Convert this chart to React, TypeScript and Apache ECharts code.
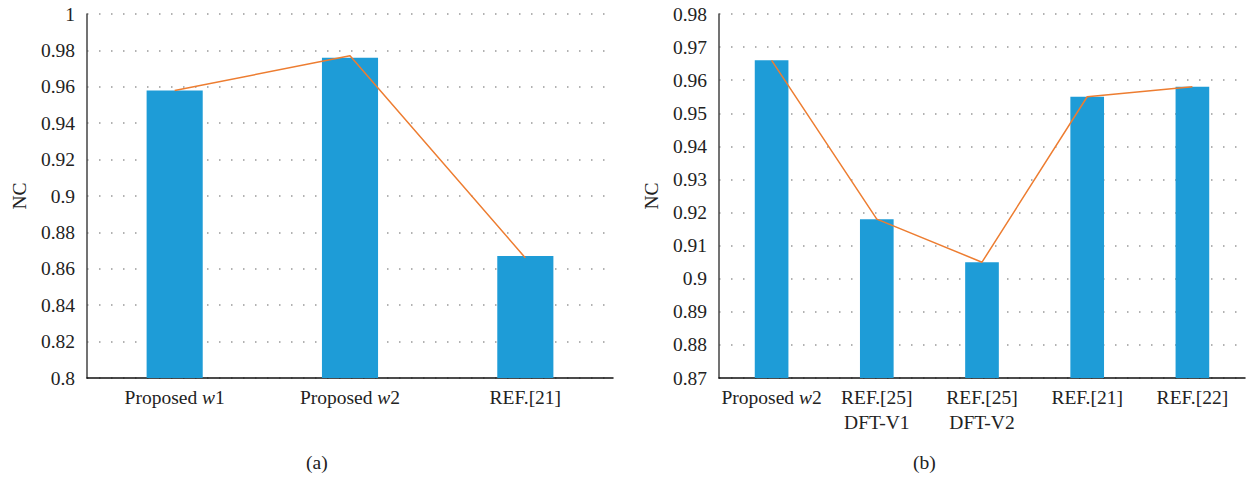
import React, { useEffect, useRef } from "react";
import * as echarts from "echarts";

const categoriesA = ["Proposed {i|w}1", "Proposed {i|w}2", "REF.[21]"];
const valuesA = [0.958, 0.976, 0.867];
const lineA = [0.958, 0.977, 0.866];

const categoriesB = [
  "Proposed {i|w}2",
  "REF.[25]\nDFT-V1",
  "REF.[25]\nDFT-V2",
  "REF.[21]",
  "REF.[22]",
];
const valuesB = [0.966, 0.918, 0.905, 0.955, 0.958];
const lineB = [0.966, 0.918, 0.905, 0.955, 0.958];

const yTicksA = { min: 0.8, max: 1, interval: 0.02 };
const yTicksB = { min: 0.87, max: 0.98, interval: 0.01 };

const FONT = "Liberation Serif";
const FS = 19.5;
const BAR = "#1E9CD7";
const LINE = "#ED7D31";

export default function App() {
  const ref = useRef<HTMLDivElement>(null);
  useEffect(() => {
    document.body.style.margin = "0";
    const chart = echarts.init(ref.current!, undefined, { renderer: "svg" });
    const xAxisCommon = {
      type: "category" as const,
      axisLine: { lineStyle: { color: "#111", width: 1.5 } },
      axisTick: { show: false },
      axisLabel: {
        fontFamily: FONT,
        fontSize: FS,
        color: "#222",
        margin: 7,
        lineHeight: 25,
        interval: 0,
        rich: { i: { fontStyle: "italic", fontFamily: FONT, fontSize: FS, color: "#222" } },
      },
    };
    const yAxisCommon = {
      type: "value" as const,
      name: "NC",
      nameLocation: "middle" as const,
      nameTextStyle: { fontFamily: FONT, fontSize: FS, color: "#222" },
      axisLine: { show: true, lineStyle: { color: "#444", width: 1.5 } },
      axisTick: { show: false },
      axisLabel: {
        fontFamily: FONT,
        fontSize: FS,
        color: "#222",
        margin: 12,
        formatter: (v: number) => String(parseFloat(v.toFixed(2))),
      },
      splitLine: { lineStyle: { color: "#999", type: [1.5, 10.5], width: 1.5 } },
    };
    chart.setOption({
      animation: false,
      grid: [
        { left: 87, top: 14, right: 637, bottom: 101 },
        { left: 719, top: 14, right: 5, bottom: 101 },
      ],
      xAxis: [
        { ...xAxisCommon, gridIndex: 0, data: categoriesA },
        { ...xAxisCommon, gridIndex: 1, data: categoriesB },
      ],
      yAxis: [
        { ...yAxisCommon, gridIndex: 0, ...yTicksA, nameGap: 58 },
        { ...yAxisCommon, gridIndex: 1, ...yTicksB, nameGap: 58 },
      ],
      series: [
        {
          type: "bar",
          xAxisIndex: 0,
          yAxisIndex: 0,
          data: valuesA,
          barWidth: "32%",
          itemStyle: { color: BAR },
          z: 2,
        },
        {
          type: "line",
          xAxisIndex: 0,
          yAxisIndex: 0,
          data: lineA,
          symbol: "none",
          lineStyle: { color: LINE, width: 1.5 },
          z: 3,
        },
        {
          type: "bar",
          xAxisIndex: 1,
          yAxisIndex: 1,
          data: valuesB,
          barWidth: "32%",
          itemStyle: { color: BAR },
          z: 2,
        },
        {
          type: "line",
          xAxisIndex: 1,
          yAxisIndex: 1,
          data: lineB,
          symbol: "none",
          lineStyle: { color: LINE, width: 1.5 },
          z: 3,
        },
      ],
      graphic: [
        {
          type: "text",
          left: 306,
          top: 452,
          style: { text: "(a)", fontFamily: FONT, fontSize: FS, fill: "#222" },
        },
        {
          type: "text",
          left: 913,
          top: 452,
          style: { text: "(b)", fontFamily: FONT, fontSize: FS, fill: "#222" },
        },
      ],
    });
    return () => chart.dispose();
  }, []);
  return <div ref={ref} style={{ width: 1250, height: 479 }} />;
}
